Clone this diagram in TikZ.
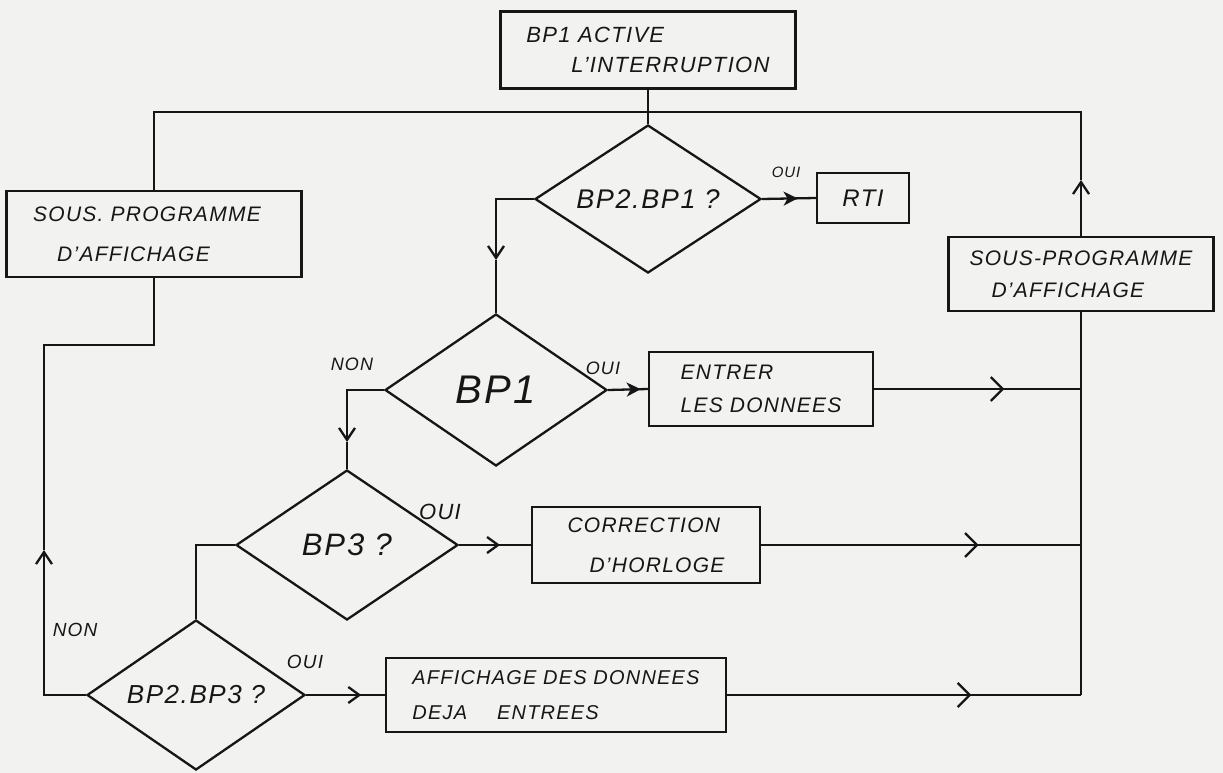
\documentclass[tikz,border=0pt]{standalone}
\usepackage{fontspec}
\setmainfont{Liberation Sans}[LetterSpace=6]
\usetikzlibrary{shapes.geometric,arrows.meta,decorations.markings}
\definecolor{paper}{RGB}{242,242,240}
\definecolor{ink}{RGB}{22,22,22}
\tikzset{
  box/.style={draw, rectangle, inner sep=0pt, align=left},
  dia/.style={draw, diamond, inner sep=0pt, shape aspect=1.5},
  barb/.style={-{Straight Barb[length=12pt,width=16pt]}},
  midbarb/.style={postaction={decorate}, decoration={markings, mark=at position #1 with {\arrow{Straight Barb[length=12pt,width=24pt]}}}},
  midsmall/.style={postaction={decorate}, decoration={markings, mark=at position #1 with {\arrow{Straight Barb[length=11pt,width=16pt]}}}},
  midstealth/.style={postaction={decorate}, decoration={markings, mark=at position #1 with {\arrow{Stealth[length=14pt,width=14pt,inset=4pt]}}}},
  lbl/.style={inner sep=0pt, font=\itshape\fontsize{18}{20}\selectfont}
}
\begin{document}
\begin{tikzpicture}[x=1pt, y=-1pt, line width=2.3pt, color=ink]
\fill[paper] (0,0) rectangle (1223,773);
\useasboundingbox (0,0) rectangle (1223,773);

% boxes
\node[box, minimum width=295pt, minimum height=77pt, font=\itshape\fontsize{22}{30}\selectfont] (top) at (648,50) {BP1 ACTIVE\\\hspace*{45pt}L'INTERRUPTION};
\node[box, minimum width=295pt, minimum height=86pt, font=\itshape\fontsize{21}{40}\selectfont] (lbox) at (154,234) {SOUS. PROGRAMME\hspace*{14pt}\\\hspace*{24pt}D'AFFICHAGE};
\node[box, minimum width=92pt, minimum height=50pt, font=\itshape\fontsize{24}{26}\selectfont] (rti) at (863,198) {RTI};
\node[box, minimum width=265pt, minimum height=74pt, font=\itshape\fontsize{21}{32}\selectfont] (rbox) at (1081,274) {SOUS-PROGRAMME\\\hspace*{22pt}D'AFFICHAGE};
\node[box, minimum width=224pt, minimum height=74pt, font=\itshape\fontsize{21}{33}\selectfont] (entrer) at (761,389) {ENTRER\\LES DONNEES};
\node[box, minimum width=228pt, minimum height=76pt, font=\itshape\fontsize{21}{40}\selectfont] (corr) at (646,545) {CORRECTION\\\hspace*{22pt}D'HORLOGE};
\node[box, minimum width=340pt, minimum height=74pt, font=\itshape\fontsize{20}{35}\selectfont] (aff) at (556,695) {AFFICHAGE DES DONNEES\\DEJA\hspace*{30pt}ENTREES};

% diamonds
\node[dia, minimum width=226pt, minimum height=148pt, font=\itshape\fontsize{27}{28}\selectfont] (d1) at (648,199) {BP2.BP1 ?};
\node[dia, minimum width=222pt, minimum height=152pt, font=\itshape\fontsize{40}{40}\selectfont] (d2) at (496,390) {BP1};
\node[dia, minimum width=222pt, minimum height=150pt, font=\itshape\fontsize{31}{32}\selectfont] (d3) at (347,545) {BP3 ?};
\node[dia, minimum width=218pt, minimum height=150pt, font=\itshape\fontsize{26}{26}\selectfont] (d4) at (196,695) {BP2.BP3 ?};

% labels
\node[lbl, font=\itshape\fontsize{15}{16}\selectfont] (oui1) at (786,172) {OUI};
\node[lbl] (oui2) at (603,368) {OUI};
\node[lbl] (non2) at (352,364) {NON};
\node[lbl, font=\itshape\fontsize{22}{24}\selectfont] (oui3) at (440,512) {OUI};
\node[lbl, font=\itshape\fontsize{19}{20}\selectfont] (oui4) at (305,662) {OUI};
\node[lbl, font=\itshape\fontsize{19}{20}\selectfont] (non4) at (75,630) {NON};

% coordinates
\coordinate (j0) at (648,112);
\coordinate (ra) at (1081,180);
\coordinate (rb) at (1081,695);
\coordinate (a1) at (496,260);
\coordinate (a2) at (347,442);
\coordinate (la) at (44,550);
\coordinate (lk) at (44,345);

% connectors
\draw (top.south) -- (d1.north);
\draw (lbox.north) |- (j0);
\draw[barb] (rbox.north) -- (ra);
\draw (ra) |- (j0);
\draw (rb) -- (rbox.south);
\draw[midbarb=0.63] (entrer.east) -- (entrer.east -| rb);
\draw[midbarb=0.68] (corr.east) -- (corr.east -| rb);
\draw[midbarb=0.69] (aff.east) -- (rb);

\draw[midstealth=0.66] (d1.east) -- (rti.west);
\draw[midstealth=0.82] (d2.east) -- (entrer.west);
\draw[midsmall=0.57] (d3.east) -- (corr.west);
\draw[midsmall=0.7] (d4.east) -- (aff.west);

\draw[barb] (d1.west) -| (a1);
\draw (a1) -- (d2.north);
\draw[barb] (d2.west) -| (a2);
\draw (a2) -- (d3.north);
\draw (d3.west) -| (d4.north);
\draw[barb] (d4.west) -| (la);
\draw (la) -- (lk) -| (lbox.south);
\end{tikzpicture}
\end{document}
